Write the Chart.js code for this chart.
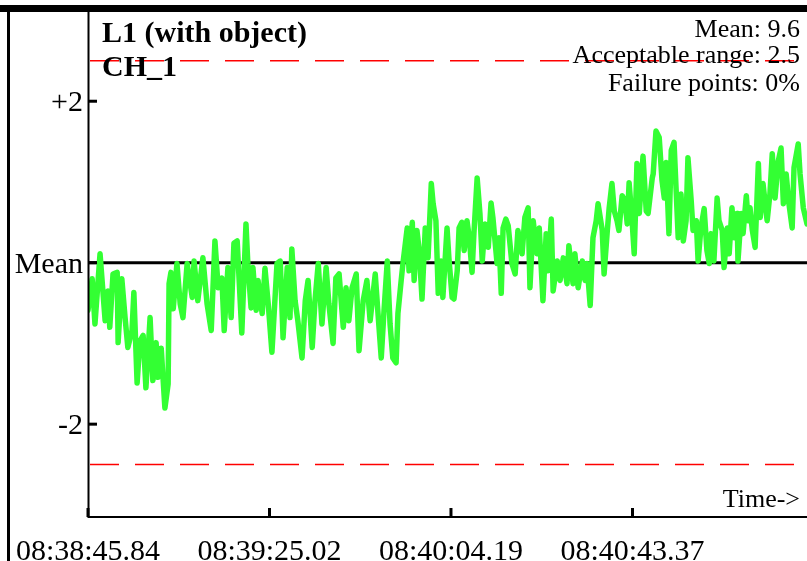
<!DOCTYPE html>
<html>
<head>
<meta charset="utf-8">
<script src="https://cdn.jsdelivr.net/npm/chart.js@4/dist/chart.umd.min.js"></script>
<style>
  html, body { margin: 0; padding: 0; background: #fff; }
  canvas { display: block; }
</style>
</head>
<body>
<canvas id="chart" width="807" height="561"></canvas>
<script>
// seconds since 08:38:45.84
const times = [
  0.0,0.9,1.5,2.6,3.7,4.3,4.7,5.4,6.3,6.5,7.3,8.0,8.6,9.5,9.9,10.6,11.2,11.9,12.5,13.4,
  14.0,14.7,15.1,15.8,16.6,17.3,17.5,17.9,18.4,19.2,19.9,20.5,21.4,22.5,22.9,23.7,24.8,25.7,26.6,27.4,
  28.1,28.9,29.4,30.2,30.9,31.5,
  32.2,33.2,34.1,34.5,35.2,35.6,36.3,36.7,37.6,38.2,38.9,39.7,40.8,41.5,42.1,43.0,43.6,44.0,44.7,45.3,
  46.2,46.9,47.5,48.4,49.0,49.7,50.5,51.4,52.0,52.9,53.5,54.2,55.1,55.7,56.3,57.0,57.9,58.5,59.4,60.2,
  60.9,62.0,
  62.6,63.3,63.9,64.6,65.2,65.8,66.5,66.9,67.6,68.0,68.9,69.3,70.0,70.4,71.0,71.5,72.1,72.8,73.4,74.1,
  74.5,75.1,75.6,76.2,76.6,77.5,77.9,78.6,79.0,79.7,80.1,80.7,81.2,81.8,82.3,82.9,83.3,84.0,84.6,85.1,
  85.7,86.4,87.0,87.4,88.3,88.7,89.2,89.6,90.2,90.7,91.5,92.2,92.8,93.7,94.3,
  95.0,95.4,96.1,96.9,97.4,98.2,98.9,99.3,100.0,100.4,101.3,101.9,102.6,103.4,103.8,104.7,105.1,105.8,106.7,107.3,
  107.7,108.4,109.0,109.7,110.1,111.0,111.4,112.1,112.5,113.1,113.6,114.2,114.6,115.3,115.9,116.4,116.8,117.4,117.9,118.5,
  119.0,119.8,120.5,120.9,121.8,122.0,122.6,123.3,123.9,124.4,124.8,125.4,125.9,126.5,127.4,128.0,128.5,129.1,129.5,130.2,
  130.6,131.3,131.7,132.3,133.0,133.6,134.1,134.5,135.1,135.8,136.2,136.9,137.3,138.0,138.4,139.0,139.5,140.1,140.3,141.0,
  141.4,142.1,142.5,142.9,143.4,144.0,144.7,145.1,145.7,146.6,147.2,147.7,148.3,149.0,149.6,150.1,150.7,151.3,152.0,152.4,
  153.3,153.7,154.4,155.2
];

// deviation from mean
const values = [
  -0.59,-0.20,-0.76,0.11,-0.72,-0.35,-0.80,-0.14,-0.12,-0.99,-0.20,-0.68,-1.05,-0.84,-0.37,-1.49,-0.97,-0.90,-1.55,-0.68,
  -1.46,-0.99,-1.42,-1.06,-1.80,-1.50,-0.26,-0.12,-0.57,-0.01,-0.51,-0.68,-0.01,-0.43,0.02,-0.47,0.06,-0.51,-0.84,0.27,
  -0.31,-0.19,-0.84,-0.06,-0.68,0.24,
  0.27,-0.87,0.48,-0.01,-0.56,-0.06,-0.59,-0.22,-0.63,-0.07,-0.51,-1.11,-0.01,0.02,-0.93,-0.06,-0.68,0.17,-0.47,-0.72,
  -1.18,-0.47,-0.22,-1.05,-0.47,-0.01,-0.76,-0.06,-0.51,-1.00,-0.19,-0.14,-0.80,-0.31,-0.72,-0.31,-0.14,-1.09,-0.47,-0.22,
  -0.72,-0.14,
  -0.63,-1.18,-0.59,0.02,-0.76,-1.18,-1.24,-0.63,-0.22,0.00,0.43,-0.10,0.50,-0.22,0.40,0.15,-0.45,0.43,0.06,0.98,
  0.73,0.52,-0.38,0.02,-0.43,0.43,0.06,-0.43,-0.45,-0.10,0.43,0.50,0.15,0.52,0.31,-0.12,0.36,1.05,0.61,0.02,
  0.48,0.19,0.74,0.56,-0.01,0.31,-0.38,0.43,0.54,0.46,-0.01,-0.14,0.40,0.11,0.56,
  0.68,-0.31,0.52,0.11,0.43,-0.47,0.36,-0.10,0.54,-0.35,0.02,-0.22,0.06,-0.26,0.21,-0.26,0.11,-0.31,0.02,-0.22,
  -0.01,-0.53,0.31,0.52,0.73,0.40,-0.14,0.40,0.68,0.98,0.64,0.52,0.40,0.83,0.77,0.48,0.99,0.56,0.11,1.23,
  0.61,1.32,0.64,0.61,1.05,1.10,1.63,1.55,1.02,0.80,1.24,0.36,1.39,1.49,0.31,0.85,0.27,0.52,1.30,0.77,
  0.40,0.52,0.02,0.43,0.67,0.15,-0.01,0.36,0.02,0.80,0.52,0.40,-0.06,0.43,0.11,0.68,0.31,0.61,0.02,0.61,
  0.36,0.83,0.52,0.68,0.40,0.19,1.23,0.56,0.98,0.52,0.85,1.35,0.80,1.26,1.42,0.73,1.10,0.73,0.43,1.18,
  1.47,1.10,0.68,0.48
];

const xTickTimes = [0, 39.18, 78.35, 117.53];
const xTickLabels = ['08:38:45.84', '08:39:25.02', '08:40:04.19', '08:40:43.37'];
const yTickValues = [2, 0, -2];
const yTickLabels = ['+2', 'Mean', '-2'];
const limitValues = [2.5, -2.5];
const titleLines = ['L1 (with object)', 'CH_1'];
const infoLines = ['Mean: 9.6', 'Acceptable range: 2.5', 'Failure points: 0%'];

const SERIF = '"Liberation Serif", "DejaVu Serif", serif';

const overlay = {
    id: 'overlay',
    beforeDatasetsDraw(chart) {
        const { ctx, chartArea: a, scales: { y } } = chart;
        ctx.save();
        // mean line
        ctx.strokeStyle = '#000';
        ctx.lineWidth = 3;
        const ym = y.getPixelForValue(0);
        ctx.beginPath();
        ctx.moveTo(a.left, ym);
        ctx.lineTo(a.right, ym);
        ctx.stroke();
        // acceptable range limits
        ctx.strokeStyle = '#ff0000';
        ctx.lineWidth = 1.5;
        ctx.setLineDash([29, 16]);
        limitValues.forEach(v => {
            const yy = y.getPixelForValue(v);
            ctx.beginPath();
            ctx.moveTo(a.left + 2, yy);
            ctx.lineTo(a.right, yy);
            ctx.stroke();
        });
        ctx.restore();
    },
    afterDraw(chart) {
        const { ctx, chartArea: a, scales: { x, y } } = chart;
        ctx.save();
        ctx.fillStyle = '#000';
        ctx.strokeStyle = '#000';

        // frame
        ctx.fillRect(0, 5, chart.width, 7);
        ctx.fillRect(7, 5, 3, chart.height - 5);

        // axes
        ctx.lineWidth = 2;
        ctx.beginPath();
        ctx.moveTo(a.left + 0.5, a.top);
        ctx.lineTo(a.left + 0.5, a.bottom);
        ctx.lineTo(a.right, a.bottom);
        ctx.stroke();

        // ticks
        ctx.lineWidth = 3;
        xTickTimes.forEach(t => {
            const px = x.getPixelForValue(t);
            ctx.beginPath();
            ctx.moveTo(px, a.bottom);
            ctx.lineTo(px, a.bottom - 9);
            ctx.stroke();
        });
        yTickValues.forEach(v => {
            const py = y.getPixelForValue(v);
            ctx.beginPath();
            ctx.moveTo(a.left, py);
            ctx.lineTo(a.left + 9, py);
            ctx.stroke();
        });

        // tick labels
        ctx.font = '30px ' + SERIF;
        ctx.textAlign = 'center';
        ctx.textBaseline = 'alphabetic';
        xTickTimes.forEach((t, i) => {
            ctx.fillText(xTickLabels[i], x.getPixelForValue(t), 560);
        });
        ctx.textAlign = 'right';
        yTickValues.forEach((v, i) => {
            ctx.fillText(yTickLabels[i], a.left - 5, y.getPixelForValue(v) + 10);
        });

        ctx.font = '26px ' + SERIF;
        ctx.fillText('Time->', 800, 507);

        // info block
        infoLines.forEach((s, i) => ctx.fillText(s, 800, [37, 63, 91][i]));

        // title
        ctx.textAlign = 'left';
        ctx.font = 'bold 30px ' + SERIF;
        titleLines.forEach((s, i) => ctx.fillText(s, 102, 42 + i * 34));

        ctx.restore();
    }
};

const chartConfig = {
    type: 'line',
    data: {
        datasets: [{
            data: times.map((t, i) => ({ x: t, y: values[i] })),
            borderColor: 'rgb(51, 255, 51)',
            borderWidth: 5.5,
            borderJoinStyle: 'round',
            borderCapStyle: 'round',
            pointRadius: 0,
            tension: 0,
            fill: false
        }]
    },
    options: {
        responsive: false,
        devicePixelRatio: 1,
        animation: false,
        layout: { padding: { left: 88, top: 10, right: 0, bottom: 44 } },
        plugins: {
            legend: { display: false },
            tooltip: { enabled: false }
        },
        scales: {
            x: { type: 'linear', min: 0, max: 155.2, display: false },
            y: { type: 'linear', min: -3.15, max: 3.13, display: false }
        }
    },
    plugins: [overlay]
};

new Chart(document.getElementById('chart'), chartConfig);
</script>
</body>
</html>
